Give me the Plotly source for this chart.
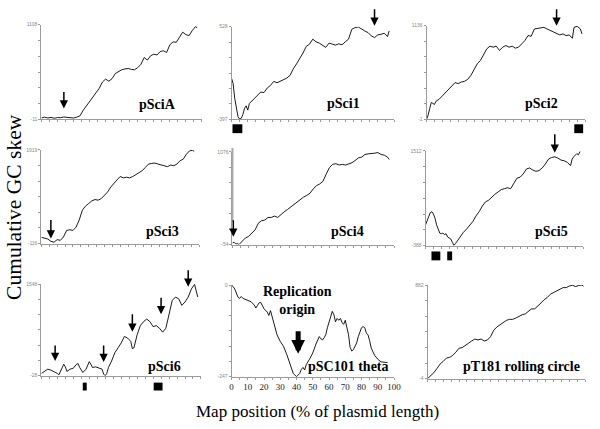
import plotly.graph_objects as go

W, H = 600, 429

# ---------------- data (x = % of plasmid length, y = cumulative GC skew) ----------------
psciA_x = [0,2,4,6,8,10,12,14,16,18,20,22,24,26,28,30,32,34,36,38,40,42,44,46,48,50,52,54,56,58,
           60,62,64,66,68,70,72,74,76,78,80,82,84,86,88,90,92,94,96,97]
psciA_y = [5,15,5,12,2,10,8,18,12,10,5,15,30,95,150,200,250,300,355,430,465,440,470,530,555,575,585,590,580,575,
           600,640,720,690,740,760,750,790,800,780,870,905,900,960,1020,990,980,1040,1085,1070]

psci1_x = [0,1,2,3,4,5,6,7,8,9,10,11,12,14,16,18,20,22,24,26,28,30,32,34,36,38,40,42,44,46,48,50,
           52,54,56,58,60,62,64,66,68,70,72,74,76,78,80,82,84,86,88,90,92,94,96,97]
psci1_y = [14,-41,-190,-288,-371,-394,-387,-348,-288,-262,-305,-239,-222,-190,-163,-124,-130,-84,-58,-18,-32,-18,
           1,14,41,107,156,206,265,331,354,403,377,364,344,321,364,350,344,357,347,377,403,502,518,525,502,485,
           469,436,419,446,452,462,429,485]

psci2_x = [0,1,2,3,4,5,6,8,10,12,14,16,18,20,22,24,26,28,30,32,34,36,38,40,42,44,46,48,50,52,54,56,58,
           60,62,64,66,68,70,72,74,76,78,80,82,84,86,88,90,92,93,95,97,98]
psci2_y = [-1,51,132,204,192,180,220,244,284,324,373,413,445,433,453,461,485,533,614,674,714,795,855,887,875,
           887,835,875,895,875,887,863,875,915,955,1016,1008,1096,1104,1108,1116,1096,1080,1064,1048,1024,1036,
           1016,1024,983,1116,1128,1096,1036]

psci3_x = [0,2,4,6,8,10,12,14,16,18,20,22,24,26,28,30,32,34,36,38,40,42,44,46,48,50,52,54,56,58,
           60,62,64,66,68,70,72,74,76,78,80,82,84,86,88,90,92,94,96,97]
psci3_y = [20,5,-16,-66,-87,-30,-45,27,170,184,170,241,398,612,698,755,812,841,827,862,934,1005,1112,1198,1269,
           1341,1312,1326,1312,1341,1383,1412,1469,1541,1612,1626,1633,1612,1598,1576,1555,1591,1576,1612,1683,
           1719,1826,1898,1912,1883]

psci4_x = [0,1,2,3,4,5,6,8,10,12,14,16,18,20,22,24,26,28,30,32,34,36,38,40,42,44,46,48,50,52,54,56,58,
           60,62,64,66,68,70,72,74,76,78,80,82,84,86,88,90,92,94,96,97]
psci4_y = [-34,-26,-46,-42,-54,-34,-14,26,46,86,126,206,237,245,277,277,293,277,317,345,373,405,437,465,493,
           525,545,573,625,665,685,717,804,884,924,932,916,924,916,932,944,972,1004,1012,1044,1052,1052,1060,
           1068,1044,1036,1012,984]

psci5_x = [0,1,2,3,4,5,6,7,8,9,10,11,12,13,14,15,16,17,18,19,20,22,24,26,28,30,32,34,36,38,40,42,44,46,48,
           50,52,54,56,58,60,62,64,66,68,70,72,74,76,78,80,82,84,86,88,90,92,93,94,96,97,98]
psci5_y = [28,94,193,272,291,245,160,28,-58,-137,-150,-137,-170,-150,-216,-236,-256,-322,-385,-348,-302,-236,
           -124,-58,8,94,206,291,404,489,522,588,641,687,734,753,773,753,852,964,984,1050,1149,1169,1129,1103,
           1116,1169,1248,1347,1380,1393,1367,1327,1314,1281,1215,1347,1393,1459,1433,1499]

psci6_x = [0,2,4,6,8,10,11,12,14,15,16,18,20,22,23,24,26,28,30,31,32,34,36,38,39,40,41,42,44,46,48,50,52,
           54,56,57,58,60,62,64,66,68,70,72,74,76,78,80,82,84,86,88,90,92,94,96,97,98]
psci6_y = [11,56,85,68,45,11,-11,56,169,124,45,85,101,169,180,113,28,85,214,169,113,124,101,85,0,-28,11,113,
           225,366,450,535,647,619,563,439,450,676,833,901,946,901,816,833,788,721,788,1013,1267,1323,1295,
           1182,1239,1323,1464,1540,1419,1323]

psc101_x = [0,1,2,3,4,5,6,7,8,10,12,14,15,16,17,18,19,20,22,23,24,26,28,30,32,34,36,38,40,42,43,44,45,46,
            48,50,52,53,54,55,56,57,58,59,60,62,63,64,65,66,67,68,69,70,71,72,73,74,75,76,77,78,79,80,81,82,
            83,84,85,86,88,90,92,94,96]
psc101_y = [0,-4,-11,-25,-33,-36,-31,-36,-38,-40,-45,-54,-62,-55,-48,-47,-54,-64,-73,-82,-69,-99,-134,-152,
            -165,-187,-214,-238,-247,-238,-227,-222,-229,-214,-200,-183,-159,-148,-139,-145,-148,-142,-134,
            -115,-99,-71,-80,-99,-90,-95,-90,-101,-106,-95,-115,-134,-168,-178,-174,-165,-156,-139,-126,-115,
            -112,-115,-130,-134,-150,-170,-189,-200,-207,-209,-209]

pt181_x = [0,2,4,6,8,10,12,14,16,18,20,22,24,26,28,30,32,34,36,38,40,42,44,46,48,50,52,54,56,58,
           60,62,64,66,68,70,72,74,76,78,80,82,84,86,88,90,92,94,96,98,99]
pt181_y = [-4,21,52,92,135,160,191,197,216,247,284,290,315,331,352,371,362,371,352,362,393,454,485,507,526,
           547,557,557,569,588,600,609,631,656,656,681,712,743,764,795,811,826,848,857,857,873,879,867,878,
           882,870]

panel_names = ["pSciA", "pSci1", "pSci2", "pSci3", "pSci4", "pSci5", "pSci6", "pSC101 theta", "pT181 rolling circle"]
y_min_labels = [-11, -397, -1, -116, -54, -388, -28, -247, -4]
y_max_labels = [1108, 528, 1136, 1919, 1076, 1512, 1548, 0, 882]
x_tick_labels = [0, 10, 20, 30, 40, 50, 60, 70, 80, 90, 100]

series_x = [psciA_x, psci1_x, psci2_x, psci3_x, psci4_x, psci5_x, psci6_x, psc101_x, pt181_x]
series_y = [psciA_y, psci1_y, psci2_y, psci3_y, psci4_y, psci5_y, psci6_y, psc101_y, pt181_y]

# ---------------- layout geometry (pixels) ----------------
boxes = [(40, 203, 22, 118), (233, 398, 24, 118), (431, 592, 23, 118),
         (40, 200, 149, 244), (234, 398, 151, 245), (430, 590, 150, 246),
         (40, 202, 285, 378), (233, 398, 286, 379), (432, 592, 286, 381)]
label_pos = [(158, 103), (347, 102), (548, 102), (163, 232), (351, 232), (558, 232),
             (165, 369), (352, 369), (527, 369)]

SERIF = "Liberation Serif, Times New Roman, serif"

fig = go.Figure()
layout = dict(width=W, height=H, margin=dict(l=0, r=0, t=0, b=0),
              paper_bgcolor="white", plot_bgcolor="white", showlegend=False)

annotations = []
shapes = []

for i in range(9):
    k = i + 1
    xa = "x" if k == 1 else f"x{k}"
    ya = "y" if k == 1 else f"y{k}"
    x0, x1, y0, y1 = boxes[i]
    lo, hi = y_min_labels[i], y_max_labels[i]
    fig.add_trace(go.Scatter(x=series_x[i], y=series_y[i], mode="lines",
                             line=dict(color="black", width=0.9), xaxis=xa, yaxis=ya,
                             hoverinfo="skip"))
    yt = [lo + (hi - lo) * j / 6 for j in range(7)]
    ytext = [str(lo)] + [""] * 5 + [str(hi)]
    xt = list(range(0, 101, 5))
    if k == 8:
        xtext = [str(v) if v in x_tick_labels else "" for v in xt]
    else:
        xtext = [""] * len(xt)
    layout["xaxis" if k == 1 else f"xaxis{k}"] = dict(
        domain=[x0 / W, x1 / W], anchor=ya, range=[0, 100], showgrid=False, zeroline=False,
        showline=True, linecolor="#9a9a9a", linewidth=1, ticks="outside", ticklen=2,
        tickcolor="#9a9a9a", tickwidth=1, tickvals=xt, ticktext=xtext,
        tickfont=dict(family=SERIF, size=9, color="#222"), fixedrange=True)
    layout["yaxis" if k == 1 else f"yaxis{k}"] = dict(
        domain=[1 - y1 / H, 1 - y0 / H], anchor=xa, range=[lo, hi], showgrid=False, zeroline=False,
        showline=True, linecolor="#9a9a9a", linewidth=1, ticks="outside", ticklen=2,
        tickcolor="#9a9a9a", tickwidth=1, tickvals=yt, ticktext=ytext,
        tickfont=dict(family="Arial, sans-serif", size=5, color="#888"), fixedrange=True)
    lx, ly = label_pos[i]
    annotations.append(dict(x=lx / W, y=1 - ly / H, xref="paper", yref="paper", text=f"<b>{panel_names[i]}</b>",
                            showarrow=False, xanchor="center", yanchor="middle",
                            font=dict(family=SERIF, size=14, color="black")))

# arrows: (panel, x %, y as fraction of panel height, length px)
arrows = [(1, 14, 0.115, 18), (2, 88, 1.01, 18), (3, 82, 1.0, 18), (4, 6, 0.053, 20),
          (5, 0.5, 0.085, 18), (6, 82, 0.98, 20),
          (7, 8.6, 0.16, 17), (7, 39, 0.15, 18), (7, 57, 0.48, 19), (7, 75, 0.67, 18), (7, 92, 0.97, 18)]
for (k, ax_, ay_, ln) in arrows:
    xr = "x" if k == 1 else f"x{k}"
    yr = ("y" if k == 1 else f"y{k}") + " domain"
    annotations.append(dict(x=ax_, y=ay_, xref=xr, yref=yr, text="", showarrow=True,
                            ax=0, ay=-ln, arrowhead=2, arrowsize=1.1, arrowwidth=1.5,
                            arrowcolor="black", standoff=0))
# big replication-origin arrow in pSC101 panel
annotations.append(dict(x=41, y=0.25, xref="x8", yref="y8 domain", text="", showarrow=True,
                        ax=0, ay=-24, arrowhead=2, arrowsize=0.55, arrowwidth=5,
                        arrowcolor="black", standoff=0))
annotations.append(dict(x=300 / W, y=1 - 302 / H, xref="paper", yref="paper",
                        text="<b>Replication<br>origin</b>", showarrow=False,
                        xanchor="center", yanchor="middle",
                        font=dict(family=SERIF, size=14, color="black")))

# axis titles
annotations.append(dict(x=12 / W, y=1 - 207 / H, xref="paper", yref="paper", text="Cumulative GC skew",
                        textangle=-90, showarrow=False, xanchor="center", yanchor="middle",
                        font=dict(family=SERIF, size=21.5, color="black")))
annotations.append(dict(x=320 / W, y=1 - 414 / H, xref="paper", yref="paper",
                        text="Map position (% of plasmid length)", showarrow=False,
                        xanchor="center", yanchor="middle",
                        font=dict(family=SERIF, size=17, color="black")))

# grey bar on pSci4 axis
shapes.append(dict(type="line", xref="paper", yref="paper", x0=234 / W, x1=234 / W,
                   y0=1 - 147 / H, y1=1 - 222 / H, line=dict(color="#aaaaaa", width=2)))

# black boxes (pixel rectangles)
boxes_px = [(234, 244, 123, 132), (581, 590, 123, 132), (436, 445, 252, 261), (452, 457, 252, 261),
            (82, 86, 385, 393), (154, 163, 385, 393)]
for (a, b, c, d) in boxes_px:
    shapes.append(dict(type="rect", xref="paper", yref="paper", x0=a / W, x1=b / W,
                       y0=1 - d / H, y1=1 - c / H, fillcolor="black", line=dict(width=0)))

layout["annotations"] = annotations
layout["shapes"] = shapes
fig.update_layout(**layout)

fig.write_html("out.html", config={"displayModeBar": False},
               post_script="document.body.style.margin='0';")
